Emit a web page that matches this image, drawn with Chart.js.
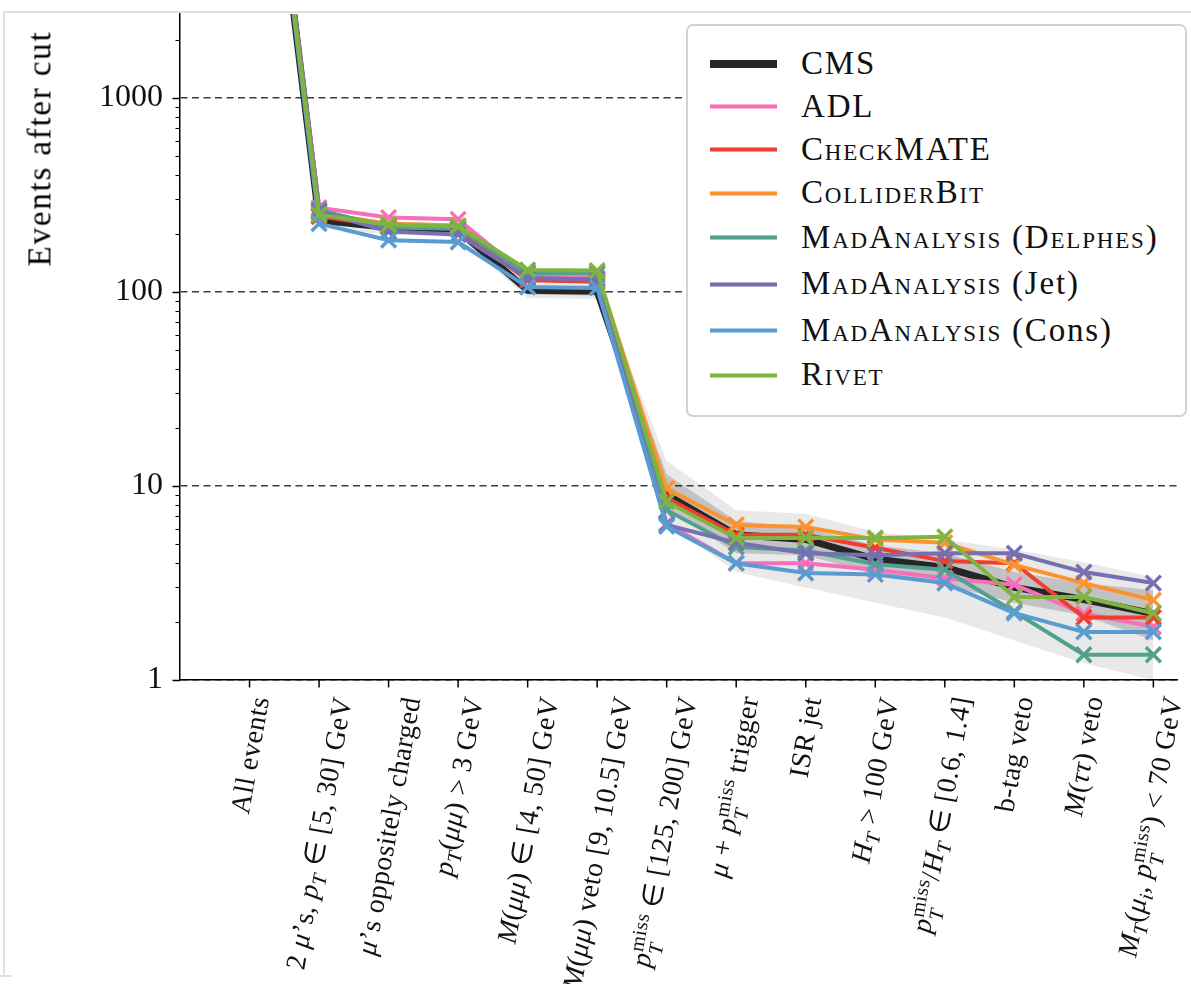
<!DOCTYPE html>
<html>
<head>
<meta charset="utf-8">
<title>Events after cut</title>
<script src="https://cdn.jsdelivr.net/npm/chart.js@4.4.1/dist/chart.umd.min.js"></script>
<style>
  html, body { margin: 0; padding: 0; background: #fff; overflow: hidden; }
  #wrap { position: relative; width: 1191px; height: 984px; }
  #cv { position: absolute; left: 0; top: 0; }
  .frame { position: absolute; background: #e0e0e0; }
  #ytitle { position: absolute; font: 33px 'Liberation Serif', serif; letter-spacing: 1.8px;
            white-space: nowrap; line-height: 1; transform: rotate(-90deg); transform-origin: center; }
  #legend { position: absolute; left: 686px; top: 24px; width: 497px; height: 389px;
            border: 2px solid #d2d2d2; border-radius: 7px; background: #fff; box-sizing: content-box; }
  .handle { position: absolute; left: 22px; width: 67px; box-sizing: border-box; }
  .ltext { position: absolute; left: 113px; font: 33px 'Liberation Serif', serif; line-height: 33px;
           letter-spacing: 1.8px; white-space: nowrap; color: #111; }
  .sc { font-variant: small-caps; }
  .xl { position: absolute; font: 28px 'Liberation Serif', serif; white-space: nowrap; line-height: 1.15;
        letter-spacing: 0.4px; color: #111; transform: rotate(-80deg); transform-origin: center; }
  .xl sub { font-size: 0.72em; vertical-align: -0.3em; line-height: 0; }
  .ss { display: inline-block; font-size: 0.72em; line-height: 0.95; vertical-align: -0.5em; }
  .ss span { display: block; }
</style>
</head>
<body>
<div id="wrap">
  <canvas id="cv" width="1191" height="984"></canvas>
  <div class="frame" style="left:4px;top:11px;width:1187px;height:2px;"></div>
  <div class="frame" style="left:3px;top:11px;width:2px;height:965px;"></div>
  <div class="frame" style="left:0;top:975px;width:12px;height:2px;"></div>
  <div id="ytitle">Events after cut</div>
  <div id="legend"></div>
</div>
<script>
// ---- cut-flow data -------------------------------------------------------
const PTMISS = '<i>p</i><span class="ss"><span>miss</span><span><i>T</i></span></span>';

const cutLabels = [
  'All events',
  '2 <i>μ</i>’s, <i>p</i><sub><i>T</i></sub> ∈ [5, 30] GeV',
  '<i>μ</i>’s oppositely charged',
  '<i>p</i><sub><i>T</i></sub>(<i>μμ</i>) &gt; 3 GeV',
  '<i>M</i>(<i>μμ</i>) ∈ [4, 50] GeV',
  '<i>M</i>(<i>μμ</i>) veto [9, 10.5] GeV',
  PTMISS + ' ∈ [125, 200] GeV',
  '<i>μ</i> + ' + PTMISS + ' trigger',
  'ISR jet',
  '<i>H</i><sub><i>T</i></sub> &gt; 100 GeV',
  PTMISS + '/<i>H</i><sub><i>T</i></sub> ∈ [0.6, 1.4]',
  'b-tag veto',
  '<i>M</i>(<i>ττ</i>) veto',
  '<i>M</i><sub><i>T</i></sub>(<i>μ</i><sub><i>i</i></sub>, ' + PTMISS + ') &lt; 70 GeV'
];

const yTickValues = [1, 10, 100, 1000];

const cms          = [200000, 235, 215, 208, 102, 101, 9.0, 5.6, 5.3, 4.2, 3.8, 3.0, 2.6, 2.2];
const cmsLo1       = [190000, 225, 207, 200,  97,  96, 7.6, 4.5, 4.4, 3.5, 3.1, 2.5, 2.15, 1.6];
const cmsHi1       = [210000, 245, 223, 216, 107, 106, 11.5, 6.6, 6.1, 4.95, 4.5, 3.6, 3.15, 2.9];
const cmsLo2       = [180000, 215, 198, 192,  93,  92, 6.4, 3.6, 3.0, 2.5, 2.1, 1.6, 1.22, 1.0];
const cmsHi2       = [220000, 255, 232, 225, 112, 111, 13.5, 7.5, 7.2, 5.8, 5.3, 4.7, 4.05, 3.4];

const adl          = [200000, 272, 242, 237, 120, 118, 6.4, 4.0, 4.0, 3.7, 3.35, 3.1, 2.2, 1.88];
const checkmate    = [200000, 245, 218, 212, 115, 113, 8.7, 5.6, 5.6, 4.8, 4.1, 4.0, 2.1, 2.1];
const colliderbit  = [200000, 255, 225, 220, 127, 126, 9.7, 6.3, 6.15, 5.3, 5.1, 3.92, 3.16, 2.58];
const maDelphes    = [200000, 265, 215, 212, 125, 124, 7.5, 4.85, 4.65, 3.95, 3.7, 2.25, 1.35, 1.35];
const maJet        = [200000, 260, 205, 198, 118, 116, 6.3, 5.1, 4.5, 4.4, 4.5, 4.5, 3.6, 3.16];
const maCons       = [200000, 225, 185, 181, 106, 105, 6.2, 4.0, 3.56, 3.5, 3.16, 2.21, 1.77, 1.77];
const rivet        = [200000, 250, 222, 218, 130, 129, 8.3, 5.4, 5.4, 5.4, 5.47, 2.68, 2.68, 2.21];

const seriesNames  = ['CMS', 'ADL', 'CheckMATE', 'ColliderBit', 'MadAnalysis (Delphes)',
                      'MadAnalysis (Jet)', 'MadAnalysis (Cons)', 'Rivet'];
const seriesHtml   = ['CMS', 'ADL', '<span class="sc">CheckMATE</span>', '<span class="sc">ColliderBit</span>',
                      '<span class="sc">MadAnalysis</span> (<span class="sc">Delphes</span>)',
                      '<span class="sc">MadAnalysis</span> (Jet)',
                      '<span class="sc">MadAnalysis</span> (Cons)',
                      '<span class="sc">Rivet</span>'];
const seriesColors = ['#262626', '#f66fba', '#f03e2e', '#fb9330', '#52a08f', '#7670b3', '#5a9bd0', '#80b342'];
const seriesData   = [cms, adl, checkmate, colliderbit, maDelphes, maJet, maCons, rivet];

// ---- helpers ---------------------------------------------------------------
const pts = arr => arr.map((v, i) => ({ x: i, y: v }));
const isDecade = v => Math.abs(Math.log10(v) - Math.round(Math.log10(v))) < 1e-9;

function band(hi, lo, colour, order) {
  return [
    { label: '_hi', data: pts(hi), borderWidth: 0, pointRadius: 0, fill: '+1', backgroundColor: colour, order },
    { label: '_lo', data: pts(lo), borderWidth: 0, pointRadius: 0, fill: false, order }
  ];
}

const datasets = [
  ...band(cmsHi2, cmsLo2, 'rgba(0,0,0,0.085)', 21),
  ...band(cmsHi1, cmsLo1, 'rgba(0,0,0,0.17)', 20),
  {
    label: seriesNames[0], data: pts(cms), borderColor: seriesColors[0], borderWidth: 7,
    pointRadius: 0, fill: false, order: 10
  },
  ...seriesData.slice(1).map((arr, k) => ({
    label: seriesNames[k + 1], data: pts(arr), borderColor: seriesColors[k + 1], borderWidth: 4,
    pointStyle: 'crossRot', pointRadius: 10.5, pointBorderWidth: 3.5,
    pointBorderColor: seriesColors[k + 1], pointBackgroundColor: seriesColors[k + 1],
    fill: false, order: 9 - k
  }))
];

// short/long tick marks on both axes
const tickMarks = {
  id: 'tickMarks',
  afterDraw(chart) {
    const { ctx, chartArea } = chart;
    const x = chart.scales.x, y = chart.scales.y;
    ctx.save();
    ctx.strokeStyle = '#000';
    for (let n = 0; n <= 4; n++) {
      for (let d = 1; d <= 9; d++) {
        const v = d * Math.pow(10, n);
        if (v < y.min || v > y.max) continue;
        const py = Math.round(y.getPixelForValue(v)) + 0.5;
        const major = d === 1;
        ctx.lineWidth = major ? 1.5 : 1.1;
        ctx.beginPath();
        ctx.moveTo(chartArea.left - (major ? 7.5 : 4.5), py);
        ctx.lineTo(chartArea.left, py);
        ctx.stroke();
      }
    }
    ctx.lineWidth = 1.5;
    cutLabels.forEach((_, i) => {
      const px = x.getPixelForValue(i);
      ctx.beginPath();
      ctx.moveTo(px, chartArea.bottom);
      ctx.lineTo(px, chartArea.bottom + 7.5);
      ctx.stroke();
    });
    ctx.restore();
  }
};

const noPad = s => { s.paddingTop = 0; s.paddingBottom = 0; s.paddingLeft = 0; s.paddingRight = 0; };

Chart.defaults.font.family = "'Liberation Serif', serif";
Chart.defaults.color = '#111';

const chart = new Chart(document.getElementById('cv'), {
  type: 'line',
  data: { datasets },
  options: {
    responsive: false,
    animation: false,
    events: [],
    devicePixelRatio: 1,
    layout: { padding: { top: 14, right: 0, left: 0, bottom: 0 } },
    elements: { line: { tension: 0 } },
    plugins: { legend: { display: false }, tooltip: { enabled: false } },
    scales: {
      x: {
        type: 'linear', min: -1, max: 13.34,
        ticks: { display: false },
        grid: { display: false },
        border: { display: true, color: '#000', width: 1.5 },
        afterFit: s => { s.height = 304; noPad(s); }
      },
      y: {
        type: 'logarithmic', min: 1, max: 2710,
        afterFit: s => { s.width = 180; noPad(s); },
        afterBuildTicks: s => { s.ticks = yTickValues.map(v => ({ value: v })); },
        ticks: {
          autoSkip: false, padding: 17,
          font: { size: 32 }, color: '#111',
          callback: v => (isDecade(v) ? String(v) : '')
        },
        grid: {
          drawTicks: false,
          color: '#3c3c3c',
          lineWidth: 1.6
        },
        border: { display: true, color: '#000', width: 1.5, dash: [7, 4.5] }
      }
    }
  },
  plugins: [tickMarks]
});

// ---- HTML text: rotated category labels, axis title, legend -------------
const wrap = document.getElementById('wrap');
const xs = chart.scales.x;
const theta = 80 * Math.PI / 180;
cutLabels.forEach((html, i) => {
  const el = document.createElement('div');
  el.className = 'xl';
  el.innerHTML = html;
  wrap.appendChild(el);
  const w = el.offsetWidth, h = el.offsetHeight;
  const H = w * Math.sin(theta) + h * Math.cos(theta);
  const cx = xs.getPixelForValue(i);
  el.style.left = (cx - w / 2) + 'px';
  el.style.top = (694 + H / 2 - h / 2) + 'px';
});

const yt = document.getElementById('ytitle');
yt.style.left = (40 - yt.offsetWidth / 2) + 'px';
yt.style.top = (148 - yt.offsetHeight / 2) + 'px';

const legend = document.getElementById('legend');
const rowY = [37.7, 80.5, 123.8, 167, 211.7, 258.3, 304.7, 349.3];
seriesHtml.forEach((html, k) => {
  const hd = document.createElement('div');
  hd.className = 'handle';
  const thick = k === 0 ? 8 : 5;
  hd.style.height = thick + 'px';
  hd.style.top = (rowY[k] - thick / 2) + 'px';
  hd.style.background = seriesColors[k];
  if (k > 0) {
    hd.style.borderTop = '1px solid rgba(255,255,255,0.45)';
    hd.style.borderBottom = '1px solid rgba(255,255,255,0.45)';
  }
  legend.appendChild(hd);
  const tx = document.createElement('div');
  tx.className = 'ltext';
  tx.innerHTML = html;
  tx.style.top = (rowY[k] - 17) + 'px';
  legend.appendChild(tx);
});
</script>
</body>
</html>
